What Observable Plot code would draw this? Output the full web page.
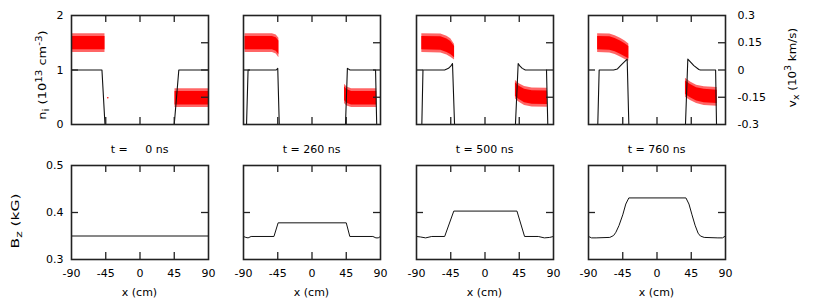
<!DOCTYPE html>
<html><head><meta charset="utf-8">
<script src="https://cdn.jsdelivr.net/npm/d3@7"></script>
<script src="https://cdn.jsdelivr.net/npm/@observablehq/plot@0.6"></script>
<style>
html,body{margin:0;padding:0;background:#fff;}
#fig{position:relative;width:817px;height:305px;overflow:hidden;font-family:"DejaVu Sans",sans-serif;}
</style></head><body><div id="fig"></div>
<script>
// ---------------- data ----------------
const times = [0, 260, 500, 760];
const titleLabels = ["t = \u2007\u20070 ns", "t = 260 ns", "t = 500 ns", "t = 760 ns"];
const xTickValues = [-90, -45, 0, 45, 90];
const xInnerTicks = [-45, 0, 45];
const nTickValues = [0, 1, 2];
const vTickValues = [0.3, 0.15, 0, -0.15, -0.3];
const vTickLabels = ["0.3", "0.15", "0", "-0.15", "-0.3"];
const bTickValues = [0.3, 0.4, 0.5];

// ion density n_i (10^13 cm^-3) profile: [x (cm), n]
const density0 = [[-90,1],[-50,1],[-46,0],[45,0],[51,1],[90,1]];
const density260 = [[-86,0],[-84,1],[-60,1],[-47,1],[-45,1.03],[-43,0],[44,0],[46.5,1.03],[50,1],[83.5,1],[85,0]];
const density500 = [[-83,0],[-81.5,1],[-53,1],[-48,1.03],[-45,1.07],[-42.7,1.12],[-40,0],[40,0],[43.6,1.12],[46,1.07],[49,1.03],[53,1],[80.8,1],[82.5,0]];
const density760 = [[-77.8,0],[-76,1],[-57,1],[-52,1.02],[-46.6,1.1],[-39.2,1.2],[-37,0],[37.4,0],[40.5,1.2],[48.4,1.08],[55,1.01],[57,1],[77,1],[78.2,0]];

// ion velocity v_x (10^3 km/s) particle band: [x, outer low, core low, core high, outer high]
const vxLeft0 = [[-90,0.096,0.111,0.185,0.200],[-46,0.096,0.111,0.185,0.200]];
const vxRight0 = [[46,-0.207,-0.192,-0.118,-0.103],[90,-0.207,-0.192,-0.118,-0.103]];
const vxStray0 = [[-42.3,-0.153]];
const vxLeft260 = [[-88,0.096,0.111,0.185,0.200],[-52,0.096,0.111,0.185,0.200],[-47,0.088,0.103,0.177,0.192],[-43.5,0.068,0.085,0.160,0.175]];
const vxRight260 = [[42.7,-0.185,-0.168,-0.092,-0.078],[46,-0.198,-0.183,-0.108,-0.093],[52,-0.207,-0.192,-0.118,-0.103],[85,-0.207,-0.192,-0.118,-0.103]];
const vxLeft500 = [[-83,0.096,0.111,0.185,0.200],[-58,0.094,0.109,0.183,0.198],[-50,0.082,0.097,0.171,0.186],[-45,0.070,0.085,0.157,0.172],[-40,0.055,0.068,0.130,0.140]];
const vxRight500 = [[40,-0.160,-0.146,-0.070,-0.058],[45,-0.178,-0.163,-0.090,-0.076],[52,-0.195,-0.180,-0.106,-0.091],[62,-0.203,-0.188,-0.114,-0.099],[82,-0.205,-0.190,-0.116,-0.101]];
const vxLeft760 = [[-78,0.096,0.111,0.185,0.200],[-62,0.094,0.109,0.183,0.198],[-55,0.085,0.100,0.174,0.189],[-48,0.072,0.087,0.160,0.175],[-42,0.058,0.073,0.145,0.160],[-37,0.048,0.062,0.130,0.143]];
const vxRight760 = [[37.4,-0.150,-0.135,-0.060,-0.046],[44,-0.168,-0.153,-0.080,-0.066],[52,-0.185,-0.170,-0.098,-0.084],[62,-0.195,-0.180,-0.106,-0.092],[79,-0.200,-0.185,-0.111,-0.097]];

// magnetic field B_z (kG): [x, B]
const bz0 = [[-90,0.35],[90,0.35]];
const bz260 = [[-90,0.349],[-87,0.347],[-84,0.346],[-80,0.349],[-50,0.349],[-44.5,0.378],[45,0.378],[49.7,0.349],[80,0.349],[84,0.346],[87,0.346],[90,0.349]];
const bz500 = [[-90,0.349],[-85,0.348],[-78,0.346],[-70,0.349],[-53,0.349],[-41,0.403],[42,0.403],[52,0.349],[70,0.349],[78,0.346],[85,0.347],[90,0.349]];
const bz760 = [[-90,0.349],[-86,0.346],[-80,0.346],[-62,0.347],[-57,0.351],[-54,0.358],[-50,0.372],[-45,0.395],[-41,0.418],[-37,0.431],[38,0.431],[42,0.418],[46,0.395],[50,0.373],[54,0.356],[57,0.350],[62,0.347],[80,0.346],[86,0.346],[90,0.35]];

// ---------------- assembly ----------------
const densities = [density0, density260, density500, density760];
const vxBands = [[vxLeft0, vxRight0], [vxLeft260, vxRight260], [vxLeft500, vxRight500], [vxLeft760, vxRight760]];
const vxStrays = [vxStray0, [], [], []];
const bzProfiles = [bz0, bz260, bz500, bz760];

const fig = document.getElementById("fig");
const panelLeft = [71, 243, 416, 588];
const W = 137, TOP1 = 15, H1 = 109, TOP2 = 165, H2 = 94, M = 10, TICK = 7;
const INK = "#222";
const svgStyle = "background:none;overflow:visible;max-width:none;font-family:'DejaVu Sans',sans-serif;font-size:11px;color:#000;position:absolute;";
const vToN = d3.scaleLinear([-0.3, 0.3], [0, 2]);
const vLabel = n => { const i = vTickValues.findIndex(v => Math.abs(vToN(v) - n) < 1e-9); return i < 0 ? "" : vTickLabels[i]; };

function place(svg, left, top) {
  svg.style.left = left + "px";
  svg.style.top = top + "px";
  fig.appendChild(svg);
}

for (let k = 0; k < 4; k++) {
  // ---------- top panel: n_i (black) and v_x (red) ----------
  const marks = [];
  for (const seg of vxBands[k]) {
    marks.push(Plot.areaY(seg, {x: d => d[0], y1: d => vToN(d[1]), y2: d => vToN(d[4]), fill: "#ff0000", fillOpacity: 0.6}));
    marks.push(Plot.areaY(seg, {x: d => d[0], y1: d => vToN(d[2]), y2: d => vToN(d[3]), fill: "#ff0000"}));
  }
  if (vxStrays[k].length) marks.push(Plot.dot(vxStrays[k], {x: d => d[0], y: d => vToN(d[1]), r: 0.8, fill: "#ff0000"}));
  marks.push(Plot.line(densities[k], {x: d => d[0], y: d => d[1], stroke: "#111", strokeWidth: 1.1}));
  marks.push(Plot.ruleX(xInnerTicks, {insetTop: H1 - TICK, stroke: INK, strokeWidth: 1.3}));
  marks.push(Plot.ruleX(xInnerTicks, {insetBottom: H1 - TICK, stroke: INK, strokeWidth: 1.3}));
  marks.push(Plot.ruleY([1], {insetRight: W - TICK, stroke: INK, strokeWidth: 1.3}));
  marks.push(Plot.ruleY([0.15, 0, -0.15].map(vToN), {insetLeft: W - TICK, stroke: INK, strokeWidth: 1.3}));
  marks.push(Plot.frame({stroke: INK, strokeWidth: 1.6}));
  const yTop = k === 0
    ? {domain: [0, 2], axis: "left", ticks: nTickValues, tickSize: 0, tickPadding: 8, tickFormat: d => String(d), label: null}
    : k === 3
    ? {domain: [0, 2], axis: "right", ticks: vTickValues.map(vToN), tickSize: 0, tickPadding: 12, tickFormat: vLabel, label: null}
    : {domain: [0, 2], axis: null};
  const top = Plot.plot({
    width: W + 2 * M, height: H1 + 2 * M,
    marginLeft: M, marginRight: M, marginTop: M, marginBottom: M,
    x: {domain: [-90, 90], axis: null},
    y: yTop,
    style: svgStyle,
    marks
  });
  place(top, panelLeft[k] - M, TOP1 - M);

  // ---------- bottom panel: B_z ----------
  const bmarks = [
    Plot.line(bzProfiles[k], {x: d => d[0], y: d => d[1], stroke: "#111", strokeWidth: 1}),
    Plot.ruleX(xInnerTicks, {insetTop: H2 - TICK, stroke: INK, strokeWidth: 1.3}),
    Plot.ruleX(xInnerTicks, {insetBottom: H2 - TICK, stroke: INK, strokeWidth: 1.3}),
    Plot.ruleY([0.4], {insetRight: W - TICK, stroke: INK, strokeWidth: 1.3}),
    Plot.ruleY([0.4], {insetLeft: W - TICK, stroke: INK, strokeWidth: 1.3}),
    Plot.frame({stroke: INK, strokeWidth: 1.6})
  ];
  const yBot = k === 0
    ? {domain: [0.3, 0.5], axis: "left", ticks: bTickValues, tickSize: 0, tickPadding: 8, tickFormat: d3.format(".1f"), label: null}
    : {domain: [0.3, 0.5], axis: null};
  const bot = Plot.plot({
    width: W + 2 * M, height: H2 + 2 * M,
    marginLeft: M, marginRight: M, marginTop: M, marginBottom: M,
    x: {domain: [-90, 90], axis: "bottom", ticks: xTickValues, tickSize: 0, tickPadding: 10, tickFormat: d => String(d), label: null},
    y: yBot,
    style: svgStyle,
    marks: bmarks
  });
  place(bot, panelLeft[k] - M, TOP2 - M);
}

// ---------------- free text (titles, axis labels) ----------------
const ov = d3.select(fig).append("svg")
  .attr("width", 817).attr("height", 305)
  .style("position", "absolute").style("left", "0px").style("top", "0px")
  .style("pointer-events", "none")
  .attr("font-family", "'DejaVu Sans', sans-serif").attr("font-size", 11).attr("fill", "#000");

for (let k = 0; k < 4; k++) {
  const cx = panelLeft[k] + W / 2;
  ov.append("text").attr("x", cx).attr("y", 153).attr("text-anchor", "middle").attr("xml:space", "preserve").text(titleLabels[k]);
  ov.append("text").attr("x", cx).attr("y", 296).attr("text-anchor", "middle").text("x (cm)");
}

function rotLabel(cx, cy, sx, parts) {
  const t = ov.append("text").attr("text-anchor", "middle")
    .attr("transform", `translate(${cx},${cy}) rotate(-90) scale(${sx},1)`);
  let shift = 0;
  for (const [s, kind] of parts) {
    const target = kind === "sub" ? 3 : kind === "sup" ? -4.5 : 0;
    const sp = t.append("tspan").attr("dy", target - shift).text(s);
    if (kind) sp.attr("font-size", 8.8);
    shift = target;
  }
}
rotLabel(46, 75, 1.18, [["n"], ["i", "sub"], [" (10"], ["13", "sup"], [" cm"], ["-3", "sup"], [")"]]);
rotLabel(795.5, 67.5, 1.08, [["v"], ["x", "sub"], [" (10"], ["3", "sup"], [" km/s)"]]);
rotLabel(18.5, 221, 1.4, [["B"], ["z", "sub"], [" (kG)"]]);
</script></body></html>
